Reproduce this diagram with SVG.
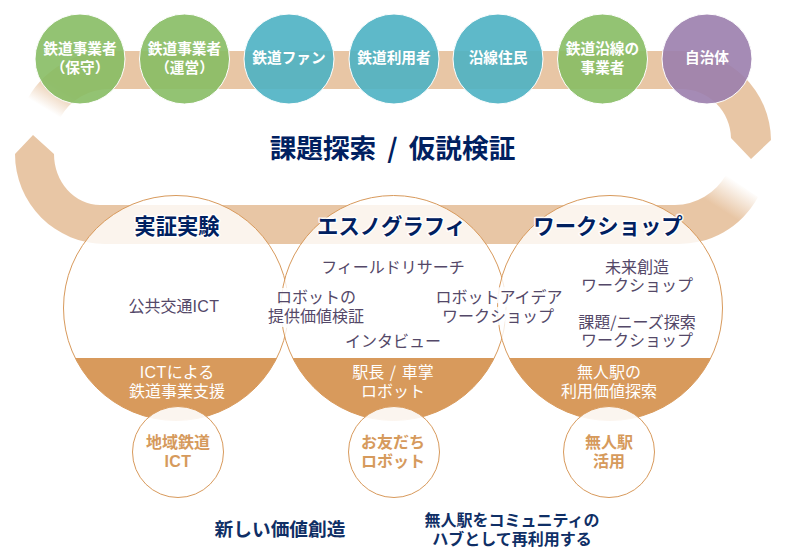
<svg xmlns="http://www.w3.org/2000/svg" width="788" height="560" viewBox="0 0 788 560">
<style>
text{font-family:"Noto Sans CJK JP","Noto Sans",sans-serif;text-anchor:middle}
.lat{font-family:"Liberation Sans",sans-serif;letter-spacing:.4px}
.top{fill:#fff;font-size:14.67px;font-weight:700}
.top-c{stroke:#fff;stroke-width:1;fill-opacity:.9}
.green{fill:#87BC64}.teal{fill:#4CB1C3}.purple{fill:#9B7EAD}
.title{fill:#002060;font-size:26.67px;font-weight:700;word-spacing:5px}
.head{fill:#002060;font-size:21.33px;font-weight:700;stroke:#fff;stroke-width:3px;stroke-opacity:.85;paint-order:stroke;stroke-linejoin:round}
.big{fill:#fff;fill-opacity:.8;stroke:none}
.ring{fill:none;stroke:#D89A5C;stroke-width:1}
.cap{fill:#D89A5C}
.body{fill:#544868;font-size:16px;stroke:#fff;stroke-width:4px;stroke-opacity:.9;paint-order:stroke;stroke-linejoin:round}
.wide{stroke-width:8px}
.capt{fill:#fff;font-size:16px;word-spacing:2px}
.small{fill:#fff;fill-opacity:.9;stroke:#D89A5C;stroke-width:1}
.smallt{fill:#D69A5C;font-size:16px;font-weight:700}
.foot{fill:#0F2F66;font-weight:700}
</style>
<defs>
<linearGradient id="fadeTop" gradientUnits="userSpaceOnUse" x1="44" y1="108" x2="58" y2="85"><stop offset="0" stop-color="#E8C6A5" stop-opacity="0"/><stop offset="1" stop-color="#E8C6A5"/></linearGradient>
<linearGradient id="fadeLow" gradientUnits="userSpaceOnUse" x1="742" y1="185" x2="725" y2="212"><stop offset="0" stop-color="#E8C6A5" stop-opacity="0"/><stop offset="1" stop-color="#E8C6A5"/></linearGradient>
<clipPath id="c1"><circle cx="176" cy="308" r="112.500"/></clipPath>
<clipPath id="c2"><circle cx="393.500" cy="308" r="112.500"/></clipPath>
<clipPath id="c3"><circle cx="610" cy="308" r="112.500"/></clipPath>
</defs>
<g id="connectors">
<path fill="url(#fadeTop)" d="M28 98A95 95 0 0 1 120 51L681 51A90 90 0 0 1 771 140L751 159L731 138A50 50 0 0 0 681 89L110 89A56 56 0 0 0 60 118Z"/>
<path fill="url(#fadeLow)" d="M33 135L15 154A90 90 0 0 0 105 244L675 244A90 90 0 0 0 758 197L726 175A60 60 0 0 1 675 205L100 205A46 51 0 0 1 54 154Z"/>
</g>
<g id="stakeholder-1"><circle class="top-c green" cx="80" cy="59" r="45"/><text class="top" x="80" y="54">鉄道事業者</text><text class="top" x="80" y="73">（保守）</text></g>
<g id="stakeholder-2"><circle class="top-c green" cx="184.500" cy="59" r="45"/><text class="top" x="184.500" y="54">鉄道事業者</text><text class="top" x="184.500" y="73">（運営）</text></g>
<g id="stakeholder-3"><circle class="top-c teal" cx="289" cy="59" r="45"/><text class="top" x="289" y="63">鉄道ファン</text></g>
<g id="stakeholder-4"><circle class="top-c teal" cx="394" cy="59" r="45"/><text class="top" x="394" y="63">鉄道利用者</text></g>
<g id="stakeholder-5"><circle class="top-c teal" cx="498" cy="59" r="45"/><text class="top" x="498" y="63">沿線住民</text></g>
<g id="stakeholder-6"><circle class="top-c green" cx="602.500" cy="59" r="45"/><text class="top" x="602.500" y="54">鉄道沿線の</text><text class="top" x="602.500" y="73">事業者</text></g>
<g id="stakeholder-7"><circle class="top-c purple" cx="707" cy="59" r="45"/><text class="top" x="707" y="63">自治体</text></g>
<g id="title"><text class="title" x="392.500" y="158">課題探索 / 仮説検証</text></g>
<g id="experiment">
<circle class="big" cx="176" cy="308" r="112.500"/><rect class="cap" x="60" y="358" width="232" height="70" clip-path="url(#c1)"/><circle class="ring" cx="176" cy="308" r="112.500"/>
</g>
<g id="ethnography">
<circle class="big" cx="393.500" cy="308" r="112.500"/><rect class="cap" x="277" y="358" width="232" height="70" clip-path="url(#c2)"/><circle class="ring" cx="393.500" cy="308" r="112.500"/>
</g>
<g id="workshop">
<circle class="big" cx="610" cy="308" r="112.500"/><rect class="cap" x="494" y="358" width="232" height="70" clip-path="url(#c3)"/><circle class="ring" cx="610" cy="308" r="112.500"/>
</g>
<g id="experiment-text">
<text class="head" x="177" y="234">実証実験</text>
<text class="body" x="174" y="312">公共交通<tspan class="lat">ICT</tspan></text>
<text class="capt" x="177" y="378"><tspan class="lat">ICT</tspan>による</text><text class="capt" x="177" y="397">鉄道事業支援</text>
</g>
<g id="ethnography-text">
<text class="head" x="391.500" y="234">エスノグラフィ</text>
<text class="body" x="393" y="273">フィールドリサーチ</text>
<text class="body wide" x="316" y="303">ロボットの</text><text class="body wide" x="316" y="322">提供価値検証</text>
<text class="body" x="393" y="347">インタビュー</text>
<text class="capt" x="393" y="378">駅長 / 車掌</text><text class="capt" x="393" y="397">ロボット</text>
</g>
<g id="workshop-text">
<text class="head" x="608" y="234">ワークショップ</text>
<text class="body wide" x="499" y="303">ロボットアイデア</text><text class="body wide" x="498" y="322">ワークショップ</text>
<text class="body" x="637" y="273">未来創造</text><text class="body" x="637" y="291">ワークショップ</text>
<text class="body" x="637" y="328">課題/ニーズ探索</text><text class="body" x="637" y="346">ワークショップ</text>
<text class="capt" x="609" y="378">無人駅の</text><text class="capt" x="609" y="397">利用価値探索</text>
</g>
<g id="project-1"><circle class="small" cx="178" cy="452" r="45.500"/><text class="smallt" x="178" y="448">地域鉄道</text><text class="smallt lat" x="178" y="467">ICT</text></g>
<g id="project-2"><circle class="small" cx="394" cy="452" r="45.500"/><text class="smallt" x="393" y="448">お友だち</text><text class="smallt" x="393" y="467">ロボット</text></g>
<g id="project-3"><circle class="small" cx="609" cy="452" r="45.500"/><text class="smallt" x="609" y="448">無人駅</text><text class="smallt" x="609" y="467">活用</text></g>
<g id="footer">
<text class="foot" x="280" y="536" font-size="18.700">新しい価値創造</text>
<text class="foot" x="512" y="526" font-size="16">無人駅をコミュニティの</text>
<text class="foot" x="512" y="545" font-size="16">ハブとして再利用する</text>
</g>
</svg>
